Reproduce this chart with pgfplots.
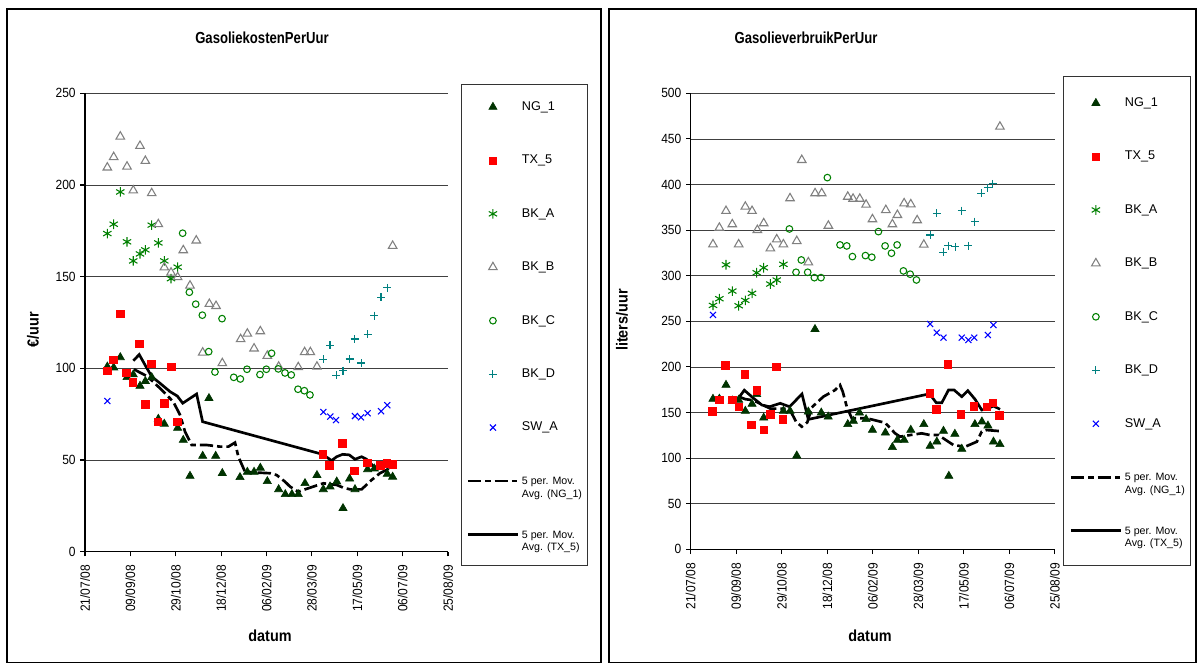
\documentclass[border=0pt]{standalone}
\usepackage{fontspec}
\setmainfont{Liberation Sans}
\newfontfamily\ticksfont[FakeStretch=0.9]{Liberation Sans}
\newfontfamily\titlefont[FakeStretch=0.82]{Liberation Sans}
\usepackage{pgfplots}
\pgfplotsset{compat=1.18}
\definecolor{ngc}{HTML}{003300}
\definecolor{txc}{HTML}{FF0000}
\definecolor{bkac}{HTML}{008000}
\definecolor{bkbc}{HTML}{808080}
\definecolor{bkcc}{HTML}{008000}
\definecolor{bkdc}{HTML}{008080}
\definecolor{swac}{HTML}{0000FF}
\newcommand{\malabel}[1]{\raisebox{0pt}[\height][0pt]{\fontsize{8}{9.5}\selectfont\begin{tabular}[t]{@{}l@{}}5 per. Mov.\\Avg. (#1)\end{tabular}}}
\pgfplotsset{
  mychart/.style={
    scale only axis,
    xmin=0, xmax=400,
    xtick={0,50,...,400},
    xticklabels={21/07/08,09/09/08,29/10/08,18/12/08,06/02/09,28/03/09,17/05/09,06/07/09,25/08/09},
    xticklabel style={rotate=90, anchor=east, font=\ticksfont\fontsize{10}{12}\selectfont},
    xticklabel shift=3pt,
    yticklabel style={font=\ticksfont\fontsize{10}{12}\selectfont},
    /pgf/number format/assume math mode=true,
    axis x line*=bottom, axis y line*=left,
    axis line style={-, black, line width=0.8pt},
    tick align=outside, major tick length=3.5pt,
    tick style={black, line width=0.8pt},
    ymajorgrids, major grid style={black!75, line width=0.6pt},
    clip=false,
    legend cell align=left,
    legend image code/.code={\draw[mark repeat=2,mark phase=2,##1] plot coordinates {(0pt,0pt) (18.75pt,0pt) (37.5pt,0pt)};},
    legend style={draw=none, fill=none,
      font=\fontsize{9.5}{11}\selectfont, row sep=28pt,
      inner xsep=4pt, inner ysep=11pt,
      cells={anchor=west}},
  },
  ng/.style={only marks, mark=triangle*, mark size=3.5pt, color=ngc, mark options={line width=0.5pt}},
  tx/.style={only marks, mark=square*, mark size=2.8pt, color=txc, mark options={line width=0.3pt}},
  bka/.style={only marks, mark=asterisk, mark size=3.6pt, color=bkac, mark options={line width=0.8pt}},
  bkb/.style={only marks, mark=triangle, mark size=3.7pt, color=bkbc, mark options={line width=0.8pt}},
  bkc/.style={only marks, mark=o, mark size=2.5pt, color=bkcc, mark options={line width=0.8pt}},
  bkd/.style={only marks, mark=+, mark size=3pt, color=bkdc, mark options={line width=0.8pt}},
  swa/.style={only marks, mark=x, mark size=3.2pt, color=swac, mark options={line width=0.8pt}},
  mang/.style={no marks, black, line width=2pt, dash pattern=on 10pt off 3pt on 4pt off 3pt},
  matx/.style={no marks, black, line width=2pt},
}
\begin{document}
\begin{tikzpicture}
\useasboundingbox (0,0) rectangle (901.5pt,496.5pt);
\fill[white] (0,0) rectangle (901.5pt,496.5pt);
% legend frames and outer frames
\begin{scope}[x=0.75pt, y=-0.75pt, shift={(0pt,496.5pt)}]
\draw[black, line width=1pt] (7,9) rectangle (601,663);
\draw[black, line width=1pt] (609,9) rectangle (1196,663);
\draw[black!80, line width=0.6pt] (461,84) rectangle (587,565);
\draw[black!80, line width=0.6pt] (1063,76) rectangle (1190,565);
\end{scope}
% ---------------- LEFT CHART ----------------
\begin{axis}[mychart,
  at={(63.75pt,82.725pt)}, anchor=south west,
  width=272.25pt, height=343.8pt,
  ymin=0, ymax=250, ytick={0,50,...,250},
  legend style={at={(1.0358,1.0203)}, anchor=north west}]
\addplot[ng] table {
24.6 100.9
31.6 100.4
38.9 106
46.3 95.1
53.2 96.6
60.6 90.4
66.5 93
73.5 95.1
80.8 72.4
87.4 69.7
102.1 67.5
108.3 60.9
115.7 41.3
129.7 52.2
136.6 83.7
144 52.2
151.3 42.8
170.8 40.6
178.9 43.5
186.3 43.5
193.2 45.7
200.9 38.4
213.4 34
220.7 31.3
228 31.3
235 31.3
242.4 37.3
255.6 41.7
262.6 34
270 35.5
277.4 38.2
284.3 23.7
291.6 39.8
297.5 34
311.4 44.9
318.8 45.3
333.1 42.4
339 40.8
};
\addlegendentry{NG\_1}
\addplot[tx] table {
24.6 98.7
30.9 104.7
38.9 129.7
45.5 97.5
52.5 92.4
59.8 113.5
66.1 80.4
72.7 102.6
80.1 70.9
87.4 81.1
94.8 100.8
101.7 70.9
261.8 53.1
269.1 47.3
283.4 59.1
296.4 44.2
311 48.6
325.4 47.3
332.4 48.2
339 47.8
};
\addlegendentry{TX\_5}
\addplot[bka] table {
24.6 173.5
31.6 178.6
38.9 196.2
46.3 169
53.2 158.6
60.6 162.4
66.5 164.6
73.5 178.1
80.8 168.4
87.4 158.6
94.8 148.9
102.1 155.2
};
\addlegendentry{BK\_A}
\addplot[bkb] table {
24.6 209.5
31.6 215.2
38.9 226.4
46.3 210
53.2 197
60.6 221.3
66.5 213.1
73.5 195.5
80.8 178.6
87.4 155
94.8 152.2
102.1 149.7
108.3 164.4
115.7 145.1
122.6 169.7
129.7 108.6
137 135.1
144.4 134
151.3 102.8
171.5 115.9
178.9 118.9
186.3 110.8
193.2 120.2
200.9 106.8
213.4 100.9
235 100.6
242 108.8
248.3 108.8
255.6 100.9
339 166.8
};
\addlegendentry{BK\_B}
\addplot[bkc] table {
107.6 173.7
115 141.5
122 135
129.3 129
136.3 109.1
143.2 98
151 127.1
163.9 95.1
171.2 94.2
178.5 99.5
192.8 96.6
199.8 99.5
205.6 108.2
213 99.7
220.4 97.5
227.3 96.4
234.7 88.6
241.7 87.8
247.9 85.5
};
\addlegendentry{BK\_C}
\addplot[bkd] table {
262.6 105
270 112.6
277 96.2
284.3 98.7
291.6 105.1
297.1 116
304.4 102.9
311.4 118.6
318.8 128.7
326.2 138.8
333.1 143.9
};
\addlegendentry{BK\_D}
\addplot[swa] table {
24.6 82.2
262.6 76.2
270.3 73.7
276.6 71.8
297.5 74
304.1 73.3
311.4 75.5
326.2 76.6
333.1 79.9
};
\addlegendentry{SW\_A}
\addplot[mang] table {
54 99.5
60.6 97.7
66.5 96.2
75.2 92.7
84.5 88.2
97.3 81.8
104.7 74.6
110.2 65.5
117.5 58.2
134 58.2
148.8 57.3
158 57.3
165.3 59.5
169 51.8
176.3 43.6
191 43.1
203.9 42.8
211.2 41.8
220.4 38.2
225.9 35.5
235 32.7
240.6 33.7
251.6 35.5
262.6 37.3
277.4 36.4
284.7 34.9
292 34
304.8 34
315.8 39.1
325 42.8
332.4 44.6
339.7 47.3
};
\addlegendentry{\malabel{NG\_1}}
\addplot[matx] table {
53.2 104.2
59.8 107.5
66.1 101.9
73.5 95.5
82.6 91.9
93.7 87.3
101.7 84.9
107.7 81
123 86
129.6 70.9
261.8 53.1
271.8 49.7
277.3 51.8
283.9 53.1
291.2 52.8
297.5 50.4
304.8 51.8
310.3 50.4
318.4 46.4
324.3 46
332.4 47.8
339.7 47.8
};
\addlegendentry{\malabel{TX\_5}}
\end{axis}
% ---------------- RIGHT CHART ----------------
\begin{axis}[mychart,
  at={(518.0pt,84.5pt)}, anchor=south west,
  width=273.2pt, height=342pt,
  ymin=0, ymax=500, ytick={0,50,...,500},
  legend style={at={(1.0247,1.029)}, anchor=north west}]
\addplot[ng] table {
24.5 164.9
31.5 165
38.8 180.2
45.7 163
52.7 163.8
60 151.7
67.4 159.4
72.5 170
80.2 144.3
87.5 146.2
101.8 151.7
109.1 151.7
116.5 102.7
129.2 150.9
136.5 241.4
143.4 149.8
151 145.4
172.5 137.1
178.7 140.7
185.3 149.8
192.6 142.6
199.6 130.9
213.8 127.9
221.5 111.9
227 119.9
234.4 119.9
241.7 130.9
256 137.1
263 113.3
270.3 118
277.6 129.8
283.5 80.4
290.1 126.5
297.7 110
312.1 137.1
319.8 140
326.4 135.6
332.5 118
339.6 115.2
};
\addlegendentry{NG\_1}
\addplot[tx] table {
23.4 151.7
31.4 163.8
38 202.1
45.4 163.8
52.6 156.4
59.2 191.9
66.5 136.7
72.7 174.7
80 130.9
87.3 148.4
93.9 200.3
101.3 142.9
262.3 171.1
269.7 153.6
282.5 203.2
296.8 148.4
310.6 157.2
325.3 156.4
331.4 160.8
338.8 147.3
};
\addlegendentry{TX\_5}
\addplot[bka] table {
24.5 267.5
31.5 274.8
38.8 312
45.7 283.2
52.7 267.1
60 273
67.4 280.7
72.5 303.3
80.2 308.8
87.5 290.9
94.5 295.3
101.8 312.5
};
\addlegendentry{BK\_A}
\addplot[bkb] table {
24.5 334.4
31.5 352.6
38.8 371
45.7 356.4
52.7 334.4
60 375.7
67.4 371
73.2 350.1
80.2 357.5
87.5 330
94.5 339.9
101.8 334.4
109.1 384.9
116.5 338
122 426.9
129.2 314.7
136.6 390.4
143.9 390.4
151.2 354.8
172.5 386.6
178.3 384.4
185.7 384.4
192.6 377.9
199.6 361.9
214.3 372
221.5 356.4
227 366.6
234.4 379.4
241.7 378.3
248.7 360.8
256 334
339.6 463.4
};
\addlegendentry{BK\_B}
\addplot[bkc] table {
108.4 351.3
115.7 303.8
121.5 317.3
128.5 303.8
135.8 297.9
143.1 297.9
150.1 407.6
164 333.8
171.4 332.7
177.6 321
191.9 322.1
198.9 320.3
206.2 348.4
213.5 332.7
220.5 324.7
226.7 333.8
233.6 305.3
241 301.7
247.9 295.4
};
\addlegendentry{BK\_C}
\addplot[bkd] table {
263.3 344.7
270.3 368.5
277.6 325.7
283.1 333
290.4 331.9
297.7 371.4
305 333
312.1 359.4
319.3 390.5
326.4 396.6
331.9 400.7
};
\addlegendentry{BK\_D}
\addplot[swa] table {
24.5 257
263 247.1
270.3 237.6
277.6 232.1
297.7 232.1
305 229.6
311.3 232.1
326.3 235
332.5 246
};
\addlegendentry{SW\_A}
\addplot[mang] table {
52.7 167.4
60 164.7
67.4 163.6
72.5 161.6
80.2 157.8
87.5 154.3
101.8 154.3
109.1 152.8
115.7 140
122 134.5
128.1 139.3
133 155.7
145.7 167.4
158.6 174.7
164 180.2
167 172.9
171.4 156.4
176.9 143.7
193.4 143.7
213.5 138.8
224.5 127.2
229.9 123.5
240.9 125.3
253.7 127.2
262.9 125.3
272 125.3
283 118
288.5 114.4
301.3 112.5
314.2 118
319.6 129
325.1 130.8
338.6 129.7
};
\addlegendentry{\malabel{NG\_1}}
\addplot[matx] table {
52.6 166
58.9 174.5
69.1 165.6
78.3 158.2
86.6 156.4
98.4 160.1
108.6 156.4
122.2 170.3
129.2 142.5
262.3 170.5
269.6 160.8
275.8 160.8
283.1 174.7
289.3 174.7
297.7 167.4
304.3 174
312.3 164.5
319.6 152.8
326.9 154.6
332.4 157.2
339.7 153.6
};
\addlegendentry{\malabel{TX\_5}}
\end{axis}
% ---------------- titles and labels ----------------
\begin{scope}[x=0.75pt, y=-0.75pt, shift={(0pt,496.5pt)}]
\node[font=\titlefont\bfseries\fontsize{12}{14}\selectfont] at (262,38) {GasoliekostenPerUur};
\node[font=\titlefont\bfseries\fontsize{12}{14}\selectfont] at (806,38) {GasolieverbruikPerUur};
\node[font=\ticksfont\bfseries\fontsize{12}{14}\selectfont, rotate=90] at (33,330) {€/uur};
\node[font=\ticksfont\bfseries\fontsize{12}{14}\selectfont, rotate=90] at (622,320) {liters/uur};
\node[font=\ticksfont\bfseries\fontsize{12}{14}\selectfont] at (270,636) {datum};
\node[font=\ticksfont\bfseries\fontsize{12}{14}\selectfont] at (870,636) {datum};
\end{scope}
\end{tikzpicture}
\end{document}
